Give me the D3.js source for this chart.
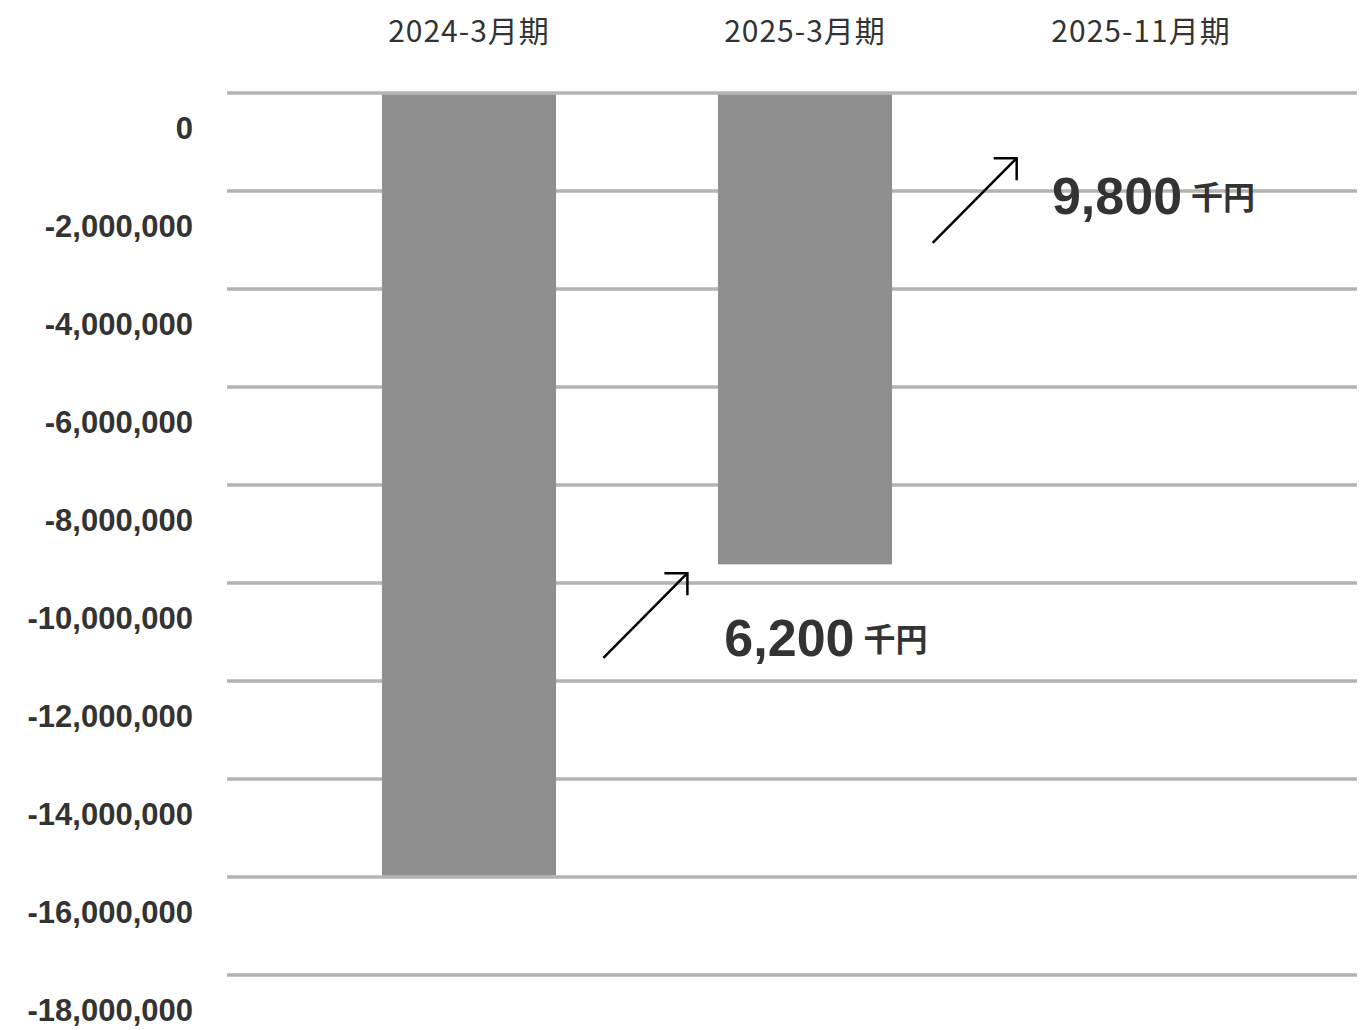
<!DOCTYPE html>
<html>
<head>
<meta charset="utf-8">
<script src="https://cdn.jsdelivr.net/npm/d3@7"></script>
<style>
  body { margin: 0; background: #fff; }
  svg { display: block; }
</style>
</head>
<body>
<div id="chart"></div>
<script>
const categories = ['2024-3月期', '2025-3月期', '2025-11月期'];
const values = [-16000000, -9650000, 0];
const yTicks = [0, -2000000, -4000000, -6000000, -8000000, -10000000, -12000000, -14000000, -16000000, -18000000];
// arrows: position in category units (0 = first band centre) and value units
const annoText = ['6,200', '9,800'];
const annoUnit = ['千円', '千円'];
const annoFrom = [[0.40, -11530000], [1.38, -3060000]];
const annoTo = [[0.65, -9800000], [1.63, -1330000]];
const annoLabelAt = [[0.76, -11490000], [1.735, -2470000]];

const width = 1363, height = 1030;

const svg = d3.select('#chart').append('svg')
    .attr('width', width)
    .attr('height', height);

const x = d3.scaleBand()
    .domain(categories)
    .range([301, 1309])
    .paddingInner(0.482)
    .paddingOuter(0.241);

const y = d3.scaleLinear()
    .domain([0, -18000000])
    .range([93, 975]);

// position along x in category units
const step = x.step();
const cx = i => x(categories[0]) + x.bandwidth() / 2 + i * step;

// gridlines
svg.append('g')
    .selectAll('line')
    .data(yTicks)
    .join('line')
    .attr('x1', 227)
    .attr('x2', 1357)
    .attr('y1', d => y(d))
    .attr('y2', d => y(d))
    .attr('stroke', '#b3b3b3')
    .attr('stroke-width', 3.5);

// bars
svg.append('g')
    .selectAll('rect')
    .data(values)
    .join('rect')
    .attr('x', (d, i) => x(categories[i]))
    .attr('width', x.bandwidth())
    .attr('y', y(0) + 1.5)
    .attr('height', d => Math.max(0, y(d) - y(0) - 3))
    .attr('fill', '#8f8f8f');

// y labels (sit below their gridline)
svg.append('g')
    .selectAll('text')
    .data(yTicks)
    .join('text')
    .attr('x', 193)
    .attr('y', d => y(d) + 46)
    .attr('text-anchor', 'end')
    .attr('font-family', '"Liberation Sans", Arial, sans-serif')
    .attr('font-weight', 'bold')
    .attr('font-size', 31)
    .attr('fill', '#333')
    .text(d => d3.format(',')(d).replace('−', '-'));

// category labels at top
svg.append('g')
    .selectAll('text')
    .data(categories)
    .join('text')
    .attr('x', d => x(d) + x.bandwidth() / 2)
    .attr('y', 42)
    .attr('text-anchor', 'middle')
    .attr('font-family', '"Noto Sans CJK JP", "Noto Sans", sans-serif')
    .attr('font-size', 30)
    .attr('letter-spacing', 1)
    .attr('fill', '#333')
    .text(d => d);

// arrows
const arrows = svg.append('g');
annoFrom.forEach((f, i) => {
    const t = annoTo[i];
    const x1 = cx(f[0]), y1 = y(f[1]);
    const x2 = cx(t[0]), y2 = y(t[1]);
    arrows.append('line')
        .attr('x1', x1).attr('y1', y1)
        .attr('x2', x2).attr('y2', y2)
        .attr('stroke', '#000')
        .attr('stroke-width', 2.5);
    arrows.append('path')
        .attr('d', `M${x2 - 23},${y2} L${x2},${y2} L${x2},${y2 + 22}`)
        .attr('fill', 'none')
        .attr('stroke', '#000')
        .attr('stroke-width', 2.5);

    const lbl = svg.append('text')
        .attr('x', cx(annoLabelAt[i][0]))
        .attr('y', y(annoLabelAt[i][1]))
        .attr('font-family', '"Liberation Sans", Arial, sans-serif')
        .attr('font-weight', 'bold')
        .attr('fill', '#333');
    lbl.append('tspan')
        .attr('font-size', 52)
        .text(annoText[i]);
    lbl.append('tspan')
        .attr('dx', 9)
        .attr('dy', -5)
        .attr('font-family', '"Noto Sans CJK JP", sans-serif')
        .attr('font-weight', 'bold')
        .attr('font-size', 32)
        .text(annoUnit[i]);
});
</script>
</body>
</html>
